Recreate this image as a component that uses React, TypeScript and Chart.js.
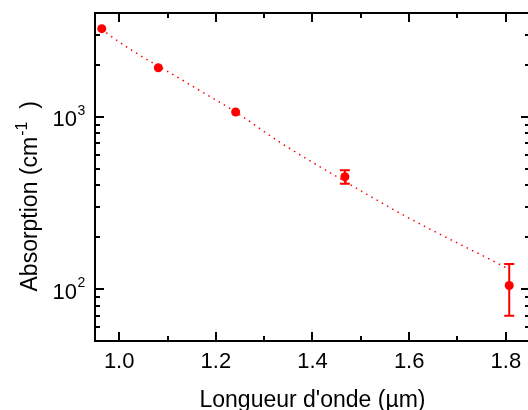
import React, { useEffect, useRef } from "react";
import { Chart, registerables } from "chart.js";

Chart.register(...registerables);

// ---- data ----
const wavelengths = [0.964, 1.081, 1.241, 1.467, 1.807];
const absorption = [3245, 1925, 1065, 449, 105];
const absorptionErr = [0, 0, 0, 40, 35];

const fitWavelengths = [0.964, 0.975, 1.14, 1.241, 1.333, 1.457, 1.591, 1.705, 1.794, 1.8];
const fitAbsorption = [3245, 3048, 1574, 1065, 710, 438, 266, 182, 136, 133];

const xMajorTicks = [1.0, 1.2, 1.4, 1.6, 1.8];
const xMinorTicks = [1.1, 1.3, 1.5, 1.7];
const yMajorTicks = [100, 1000];
const yMajorExponents = ["2", "3"];
const yMinorTicks = [60, 70, 80, 90, 200, 300, 400, 500, 600, 700, 800, 900, 2000, 3000];

const xTitle = "Longueur d'onde (µm)";
const yTitleMain = "Absorption (cm";
const yTitleSup = "-1";
const yTitleEnd = "  )";

const FONT = "'Liberation Sans', Arial, Helvetica, sans-serif";
const RED = "#ff0000";

const originAxes = {
  id: "originAxes",
  beforeDatasetsDraw(chart: any) {
    const { ctx, scales } = chart;
    const x = scales.x;
    const y = scales.y;
    ctx.save();
    ctx.strokeStyle = RED;
    ctx.lineWidth = 2;
    ctx.beginPath();
    wavelengths.forEach((w, i) => {
      const e = absorptionErr[i];
      if (!e) return;
      const px = x.getPixelForValue(w);
      const yt = y.getPixelForValue(absorption[i] + e);
      const yb = y.getPixelForValue(absorption[i] - e);
      ctx.moveTo(px, yt);
      ctx.lineTo(px, yb);
      ctx.moveTo(px - 5, yt);
      ctx.lineTo(px + 5, yt);
      ctx.moveTo(px - 5, yb);
      ctx.lineTo(px + 5, yb);
    });
    ctx.stroke();
    ctx.restore();
  },
  afterDraw(chart: any) {
    const { ctx, chartArea: a, scales } = chart;
    const x = scales.x;
    const y = scales.y;
    ctx.save();
    ctx.strokeStyle = "#000";
    ctx.lineWidth = 2;
    ctx.strokeRect(a.left, a.top, a.right - a.left, a.bottom - a.top);

    ctx.beginPath();
    const xt = (vals: number[], len: number) => {
      vals.forEach((v) => {
        const px = Math.round(x.getPixelForValue(v));
        ctx.moveTo(px, a.bottom);
        ctx.lineTo(px, a.bottom - len);
        ctx.moveTo(px, a.top);
        ctx.lineTo(px, a.top + len);
      });
    };
    const yt = (vals: number[], len: number) => {
      vals.forEach((v) => {
        const py = Math.round(y.getPixelForValue(v));
        ctx.moveTo(a.left, py);
        ctx.lineTo(a.left + len, py);
        ctx.moveTo(a.right, py);
        ctx.lineTo(a.right - len, py);
      });
    };
    xt(xMajorTicks, 9);
    xt(xMinorTicks, 5);
    yt(yMajorTicks, 9);
    yt(yMinorTicks, 5);
    ctx.stroke();

    ctx.fillStyle = "#000";
    // x tick labels
    ctx.font = `22px ${FONT}`;
    ctx.textAlign = "center";
    ctx.textBaseline = "alphabetic";
    xMajorTicks.forEach((v) => {
      ctx.fillText(v.toFixed(1), x.getPixelForValue(v), a.bottom + 27);
    });
    // y tick labels
    yMajorTicks.forEach((v, i) => {
      const py = y.getPixelForValue(v);
      ctx.font = `22px ${FONT}`;
      ctx.textAlign = "right";
      ctx.fillText("10", a.left - 18, py + 9.4);
      ctx.font = `14px ${FONT}`;
      ctx.textAlign = "left";
      ctx.fillText(yMajorExponents[i], a.left - 17.5, py - 1.7);
    });

    // x title
    ctx.font = `23px ${FONT}`;
    ctx.textAlign = "center";
    ctx.fillText(xTitle, (a.left + a.right) / 2, a.bottom + 66);

    // y title
    ctx.save();
    ctx.translate(37, 291.5);
    ctx.rotate(-Math.PI / 2);
    ctx.textAlign = "left";
    ctx.font = `23px ${FONT}`;
    const w1 = ctx.measureText(yTitleMain).width;
    ctx.font = `16px ${FONT}`;
    const w2 = ctx.measureText(yTitleSup).width;
    let sx = 0;
    ctx.font = `23px ${FONT}`;
    ctx.fillText(yTitleMain, sx, 0);
    sx += w1 + 1;
    ctx.font = `16px ${FONT}`;
    ctx.fillText(yTitleSup, sx, -10);
    sx += w2;
    ctx.font = `23px ${FONT}`;
    ctx.fillText(yTitleEnd, sx, 0);
    ctx.restore();

    ctx.restore();
  },
};

export default function App() {
  const ref = useRef<HTMLCanvasElement | null>(null);
  useEffect(() => {
    if (!ref.current) return;
    const chart = new Chart(ref.current, {
      type: "scatter",
      data: {
        datasets: [
          {
            label: "mesures",
            data: wavelengths.map((w, i) => ({ x: w, y: absorption[i] })),
            backgroundColor: RED,
            borderColor: RED,
            pointRadius: 4.5,
            pointBorderWidth: 0,
            showLine: false,
            order: 0,
          },
          {
            label: "ajustement",
            data: fitWavelengths.map((w, i) => ({ x: w, y: fitAbsorption[i] })),
            borderColor: RED,
            borderWidth: 1.5,
            borderDash: [1.5, 4.5],
            pointRadius: 0,
            showLine: true,
            cubicInterpolationMode: "monotone",
            order: 1,
          },
        ],
      },
      options: {
        responsive: false,
        animation: false,
        devicePixelRatio: 1,
        layout: { padding: { left: 95, top: 13, right: 10, bottom: 69 } },
        plugins: { legend: { display: false }, tooltip: { enabled: false } },
        scales: {
          x: { type: "linear", min: 0.95, max: 1.85, display: false },
          y: { type: "logarithmic", min: 50, max: 4000, display: false },
        },
      },
      plugins: [originAxes],
    });
    return () => chart.destroy();
  }, []);
  return (
    <div
      style={{
        position: "fixed",
        left: 0,
        top: 0,
        width: 528,
        height: 410,
        overflow: "hidden",
        background: "#fff",
      }}
    >
      <canvas ref={ref} width={540} height={410} style={{ display: "block" }} />
    </div>
  );
}
